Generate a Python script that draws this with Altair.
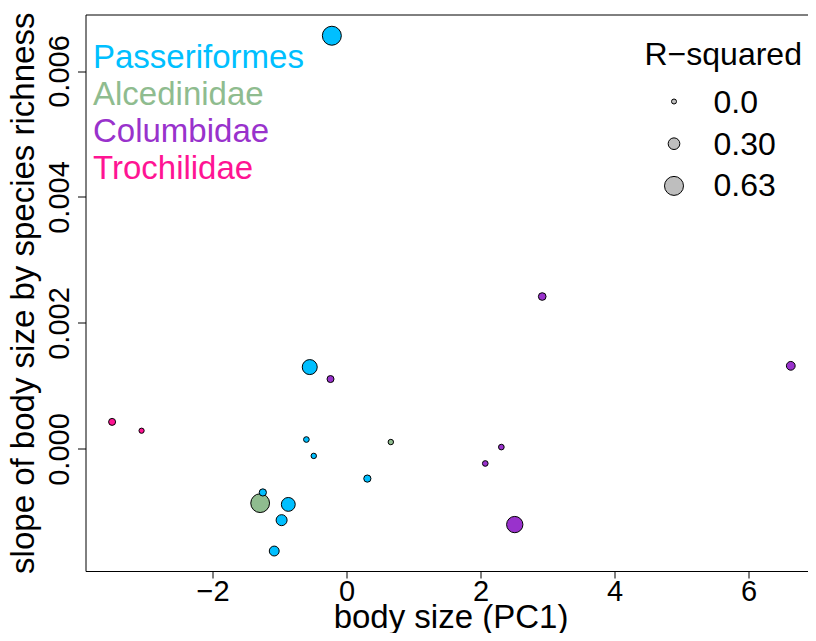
import altair as alt
import pandas as pd

FONT = "Liberation Sans"

# ---- data ----
groups = ["Passeriformes", "Alcedinidae", "Columbidae", "Trochilidae"]
group_colors = ["#00BFFF", "#8FBC8F", "#9932CC", "#FF1493"]

point_group = (["Alcedinidae"] * 2 + ["Columbidae"] * 6 + ["Trochilidae"] * 2
               + ["Passeriformes"] * 9)
pc1 = [-1.29, 0.66,
       -0.24, 2.92, 6.63, 2.31, 2.07, 2.51,
       -3.50, -3.06,
       -0.22, -0.55, -0.60, -0.49, 0.31, -1.25, -0.87, -0.97, -1.08]
slope = [-0.00086, 0.00011,
         0.00111, 0.00242, 0.00132, 0.00003, -0.00023, -0.00120,
         0.00043, 0.00029,
         0.00656, 0.00130, 0.00015, -0.00011, -0.00047, -0.00069, -0.00088, -0.00113, -0.00162]
r_squared = [0.62, 0.02,
             0.09, 0.12, 0.17, 0.03, 0.03, 0.51,
             0.09, 0.01,
             0.63, 0.45, 0.03, 0.02, 0.10, 0.10, 0.40, 0.27, 0.22]

x_ticks = [-2, 0, 2, 4, 6]
y_ticks = [0.0, 0.002, 0.004, 0.006]
legend_r2 = [0.0, 0.30, 0.63]
legend_r2_labels = ["0.0", "0.30", "0.63"]

df = pd.DataFrame({"group": point_group, "pc1": pc1, "slope": slope, "r2": r_squared})
grp_df = pd.DataFrame({"group": groups, "i": list(range(len(groups)))})
size_df = pd.DataFrame({"r2": legend_r2, "label": legend_r2_labels,
                        "i": list(range(len(legend_r2)))})

SIZE_EXPR = "pow(5 + 22.2*datum.r2, 2)"
color_scale = alt.Scale(domain=groups, range=group_colors)

x_axis = alt.Axis(values=x_ticks, format="d", title="body size (PC1)", domain=False, grid=False,
                  tickSize=7, tickColor="black", tickWidth=1,
                  labelFont=FONT, labelFontSize=29, labelColor="black",
                  labelBaseline="alphabetic", labelPadding=22, labelFlush=False, labelOverlap=False,
                  titleFont=FONT, titleFontSize=33, titleFontWeight="normal", titleColor="black",
                  titleX=365, titleY=56, titleBaseline="alphabetic")
y_axis = alt.Axis(values=y_ticks, format=".3f", title="slope of body size by species richness",
                  domain=False, grid=False,
                  tickSize=8, tickColor="black", tickWidth=1,
                  labelFont=FONT, labelFontSize=29, labelColor="black",
                  labelAngle=270, labelAlign="center", labelBaseline="alphabetic",
                  labelPadding=9.5, labelFlush=False, labelOverlap=False,
                  titleFont=FONT, titleFontSize=33, titleFontWeight="normal", titleColor="black",
                  titleAngle=270, titleAlign="center", titleBaseline="alphabetic", titleX=-52)

points = alt.Chart(df).transform_calculate(sz=SIZE_EXPR).mark_circle(
    stroke="black", strokeWidth=1, opacity=1
).encode(
    x=alt.X("pc1:Q", scale=alt.Scale(domain=[-3.897, 6.887], nice=False, zero=False), axis=x_axis),
    y=alt.Y("slope:Q", scale=alt.Scale(domain=[-0.001937, 0.006897], nice=False, zero=False), axis=y_axis),
    color=alt.Color("group:N", scale=color_scale, legend=None),
    size=alt.Size("sz:Q", scale=None, legend=None),
)

group_legend = alt.Chart(grp_df).transform_calculate(ly="53 + 37*datum.i").mark_text(
    align="left", baseline="alphabetic", font=FONT, fontSize=33
).encode(
    x=alt.value(7.5),
    y=alt.Y("ly:Q", scale=None, axis=None),
    text="group:N",
    color=alt.Color("group:N", scale=color_scale, legend=None),
)

size_title = alt.Chart(size_df).transform_filter("datum.i == 0").mark_text(
    align="left", baseline="alphabetic", font=FONT, fontSize=32, color="black",
    text="R\u2212squared"
).encode(x=alt.value(559), y=alt.value(50.5))

size_symbols = alt.Chart(size_df).transform_calculate(
    sz=SIZE_EXPR, ly="87 + 42.2*datum.i"
).mark_circle(stroke="black", strokeWidth=1, opacity=1, fill="#BEBEBE", color="#BEBEBE").encode(
    x=alt.value(588.5),
    y=alt.Y("ly:Q", scale=None, axis=None),
    size=alt.Size("sz:Q", scale=None, legend=None),
)

size_labels = alt.Chart(size_df).transform_calculate(ly="98.5 + 41.5*datum.i").mark_text(
    align="left", baseline="alphabetic", font=FONT, fontSize=32, color="black"
).encode(
    x=alt.value(628),
    y=alt.Y("ly:Q", scale=None, axis=None),
    text="label:N",
)

chart = alt.layer(points, group_legend, size_title, size_symbols, size_labels).properties(
    width=722.5, height=556.5,
    autosize=alt.AutoSizeParams(type="none"),
    padding={"left": 77.5, "top": 6.5, "right": 0, "bottom": 62},
    background="white",
).configure_view(stroke="black", strokeWidth=1)

chart.save("out.html", embed_options={"renderer": "svg", "actions": False})
